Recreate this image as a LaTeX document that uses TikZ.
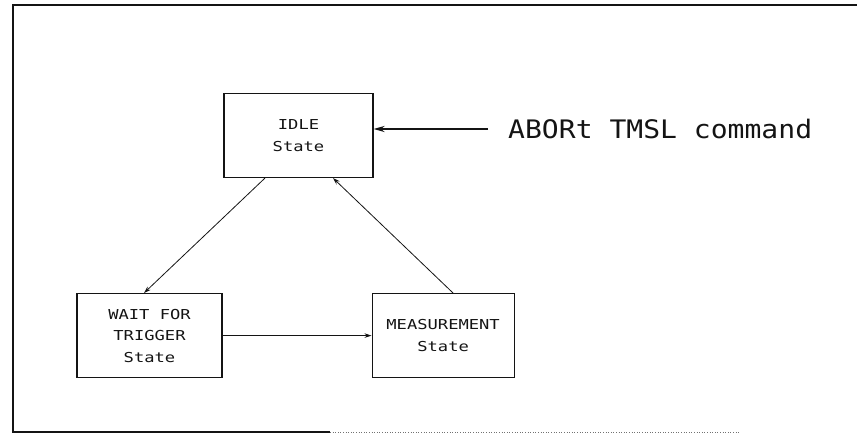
\documentclass[tikz,border=0pt]{standalone}
\usepackage{fontspec}
\usepackage{tikz}
\usetikzlibrary{arrows.meta, positioning}
\newfontfamily\plotfont{DejaVu Sans Mono}[FakeStretch=1.25]
\newfontfamily\plotbigfont{DejaVu Sans Mono}[FakeStretch=1.1]
\definecolor{plotink}{RGB}{20,20,20}
\tikzset{
  statebox/.style={
    rectangle, draw=plotink, line width=1.1pt,
    minimum height=84pt, inner sep=0pt, align=center,
    font=\plotfont\fontsize{13.7}{21.5}\selectfont, text=plotink},
  cmdlabel/.style={
    inner sep=0pt, anchor=west,
    font=\plotbigfont\fontsize{25.5}{28}\selectfont, text=plotink},
  statearrow/.style={-{Stealth[length=7pt, width=4.5pt]}, line width=0.8pt,
                     color=plotink},
  cmdarrow/.style={-{Stealth[length=11pt, width=6pt]}, line width=1.8pt,
                   color=plotink},
  frameline/.style={line width=1.6pt, color=plotink}
}
\begin{document}
\begin{tikzpicture}[x=1pt, y=1pt, node distance=115pt and 149pt]

  \useasboundingbox (0,0) rectangle (857,-438);

  %% Frame
  \draw[frameline] (857,-5) -- (13,-5) -- (13,-432) -- (330,-432);
  \draw[line width=0.6pt, color=plotink!60, dotted] (330,-432) -- (740,-432);

  %% States
  \node[statebox, minimum width=149pt] (idle) at (298.5,-135.5)
    {IDLE\\State};
  \node[statebox, minimum width=145pt, below=115pt of idle, xshift=-149pt]
    (wait) {WAIT FOR\\TRIGGER\\State};
  \node[statebox, minimum width=142pt, right=149pt of wait]
    (meas) {MEASUREMENT\\State};

  %% Command
  \node[cmdlabel] (abort) at (508,-129) {ABORt TMSL command};

  %% Arrows
  \draw[cmdarrow] ([xshift=-20pt]abort.west) -- (abort.west -| idle.east);
  \draw[statearrow] ([xshift=-33.5pt]idle.south) -- ([xshift=-5.5pt]wait.north);
  \draw[statearrow] (wait.east) -- (meas.west);
  \draw[statearrow] ([xshift=10pt]meas.north) -- ([xshift=34.5pt]idle.south);

\end{tikzpicture}
\end{document}
